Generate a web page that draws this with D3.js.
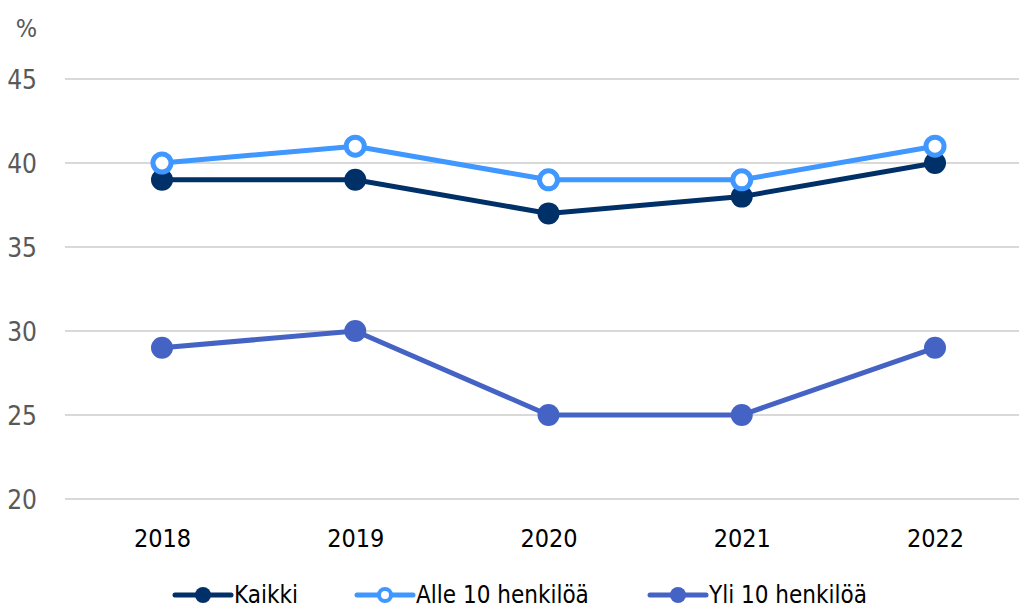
<!DOCTYPE html>
<html><head><meta charset="utf-8">
<script src="https://cdn.jsdelivr.net/npm/d3@7"></script>
<style>body{margin:0;background:#fff}svg{display:block}</style>
</head><body>
<script>
const years = ["2018","2019","2020","2021","2022"];
const kaikki = [39,39,37,38,40];
const alle10 = [40,41,39,39,41];
const yli10 = [29,30,25,25,29];
const yTicks = [20,25,30,35,40,45];
const seriesNames = ["Kaikki","Alle 10 henkilöä","Yli 10 henkilöä"];
const seriesColors = ["#003068","#3f97ff","#4563c4"];
const seriesOpen = [false,true,false];

const W=1019,H=611;
const font = "'Liberation Sans Narrow','DejaVu Sans Condensed',sans-serif";
const svg=d3.select("body").append("svg").attr("width",W).attr("height",H);
const x=d3.scalePoint().domain(years).range([162,935]);
const y=d3.scaleLinear().domain([20,45]).range([499,79]);

const grid=svg.append("g");
grid.selectAll("line").data(yTicks).join("line")
 .attr("x1",65).attr("x2",W).attr("y1",d=>y(d)).attr("y2",d=>y(d))
 .attr("stroke","#d9d9d9").attr("stroke-width",2);

const yAxis=svg.append("g").attr("transform","translate(37,0)")
 .call(d3.axisLeft(y).tickValues(yTicks).tickSize(0).tickPadding(0));
yAxis.select(".domain").remove();
yAxis.selectAll("text").attr("font-family",font).attr("font-size",26).attr("fill","#595959").attr("dy","0.35em");
svg.append("text").attr("x",37).attr("y",28).attr("dy","0.35em").attr("text-anchor","end")
 .attr("font-family",font).attr("font-size",25).attr("fill","#595959").text("%");

const xAxis=svg.append("g").attr("transform","translate(0,538)")
 .call(d3.axisBottom(x).tickSize(0).tickPadding(0));
xAxis.select(".domain").remove();
xAxis.selectAll("text").attr("font-family",font).attr("font-size",25).attr("fill","#000").attr("dy","0.35em");

const data=[kaikki,alle10,yli10];
const line=d3.line().x((d,i)=>x(years[i])).y(d=>y(d));
data.forEach((vals,k)=>{
  const g=svg.append("g");
  g.append("path").attr("d",line(vals)).attr("fill","none").attr("stroke",seriesColors[k]).attr("stroke-width",5);
  g.selectAll("circle").data(vals).join("circle")
   .attr("cx",(d,i)=>x(years[i])).attr("cy",d=>y(d))
   .attr("r",seriesOpen[k]?9:11)
   .attr("fill",seriesOpen[k]?"#fff":seriesColors[k])
   .attr("stroke",seriesColors[k]).attr("stroke-width",seriesOpen[k]?5:0);
});

const legX=[175,357,650];
const legY=595;
seriesNames.forEach((n,k)=>{
  const g=svg.append("g").attr("transform",`translate(${legX[k]},${legY})`);
  g.append("line").attr("x1",0).attr("x2",56).attr("stroke",seriesColors[k]).attr("stroke-width",5).attr("stroke-linecap","round");
  g.append("circle").attr("cx",28).attr("r",seriesOpen[k]?6:8)
   .attr("fill",seriesOpen[k]?"#fff":seriesColors[k]).attr("stroke",seriesColors[k]).attr("stroke-width",seriesOpen[k]?4:0);
  g.append("text").attr("x",59).attr("dy","0.35em").attr("font-family",font).attr("font-size",24).attr("fill","#000").text(n);
});
</script>
</body></html>
